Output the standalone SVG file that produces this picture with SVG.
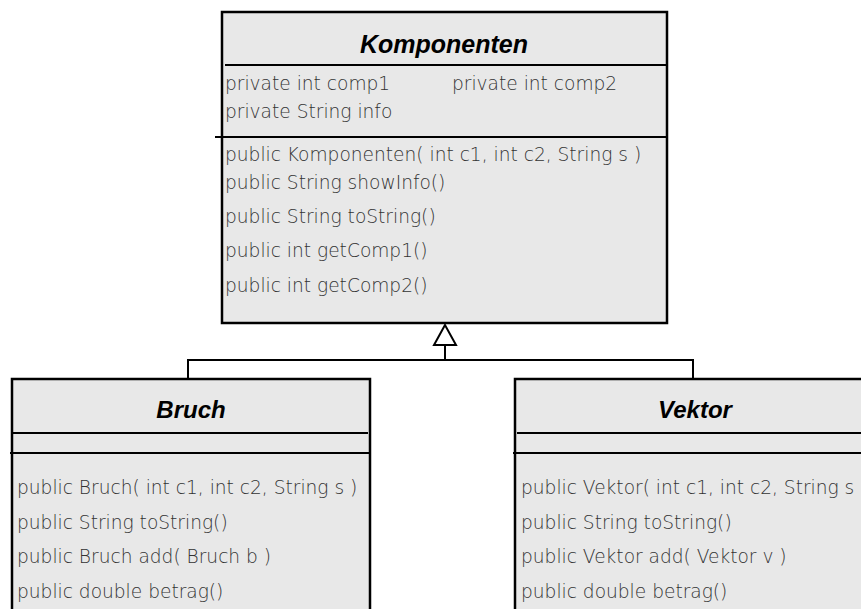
<svg xmlns="http://www.w3.org/2000/svg" width="861" height="609" viewBox="0 0 861 609">
  <style>
    .box { fill: #e8e8e8; stroke: #000; stroke-width: 2.5; }
    .sep { stroke: #000; stroke-width: 2; fill: none; }
    .title { font-family: "Liberation Sans", Arial, sans-serif; font-size: 24px; font-weight: bold; font-style: italic; fill: #000; text-anchor: middle; }
    .member { font-family: "DejaVu Sans", "Liberation Sans", sans-serif; font-weight: 200; font-size: 18.6px; fill: #333; }
    .edge { stroke: #000; stroke-width: 2; fill: none; }
    .arrow { fill: #fff; stroke: #000; stroke-width: 2; }
  </style>

  <!-- base class -->
  <g id="komponenten">
    <rect class="box" x="222" y="12" width="445" height="311"/>
    <text class="title" x="444" y="53" style="font-size:25px">Komponenten</text>
    <line class="sep" x1="225" y1="65" x2="667" y2="65"/>
    <text class="member" x="225" y="90">private int comp1</text>
    <text class="member" x="452" y="90">private int comp2</text>
    <text class="member" x="225" y="118">private String info</text>
    <line class="sep" x1="215" y1="137" x2="667" y2="137"/>
    <text class="member" x="225" y="161">public Komponenten( int c1, int c2, String s )</text>
    <text class="member" x="225" y="189">public String showInfo()</text>
    <text class="member" x="225" y="223">public String toString()</text>
    <text class="member" x="225" y="257">public int getComp1()</text>
    <text class="member" x="225" y="292">public int getComp2()</text>
  </g>

  <!-- subclass Bruch -->
  <g id="bruch">
    <rect class="box" x="12" y="379" width="358" height="250"/>
    <text class="title" x="191" y="418">Bruch</text>
    <line class="sep" x1="13" y1="433" x2="368" y2="433"/>
    <line class="sep" x1="10" y1="453" x2="370" y2="453"/>
    <text class="member" x="17" y="494">public Bruch( int c1, int c2, String s )</text>
    <text class="member" x="17" y="529">public String toString()</text>
    <text class="member" x="17" y="563">public Bruch add( Bruch b )</text>
    <text class="member" x="17" y="598">public double betrag()</text>
  </g>

  <!-- subclass Vektor -->
  <g id="vektor">
    <rect class="box" x="515" y="379" width="370" height="250"/>
    <text class="title" x="695" y="418">Vektor</text>
    <line class="sep" x1="517" y1="433" x2="861" y2="433"/>
    <line class="sep" x1="513" y1="453" x2="861" y2="453"/>
    <text class="member" x="521" y="494">public Vektor( int c1, int c2, String s )</text>
    <text class="member" x="521" y="529">public String toString()</text>
    <text class="member" x="521" y="563">public Vektor add( Vektor v )</text>
    <text class="member" x="521" y="598">public double betrag()</text>
  </g>

  <!-- generalization connectors -->
  <g id="connectors">
    <polyline class="edge" points="188,379 188,360 693,360 693,379"/>
    <line class="edge" x1="445" y1="345" x2="445" y2="360"/>
    <polygon class="arrow" points="445,325 434,345 456,345"/>
  </g>
</svg>
